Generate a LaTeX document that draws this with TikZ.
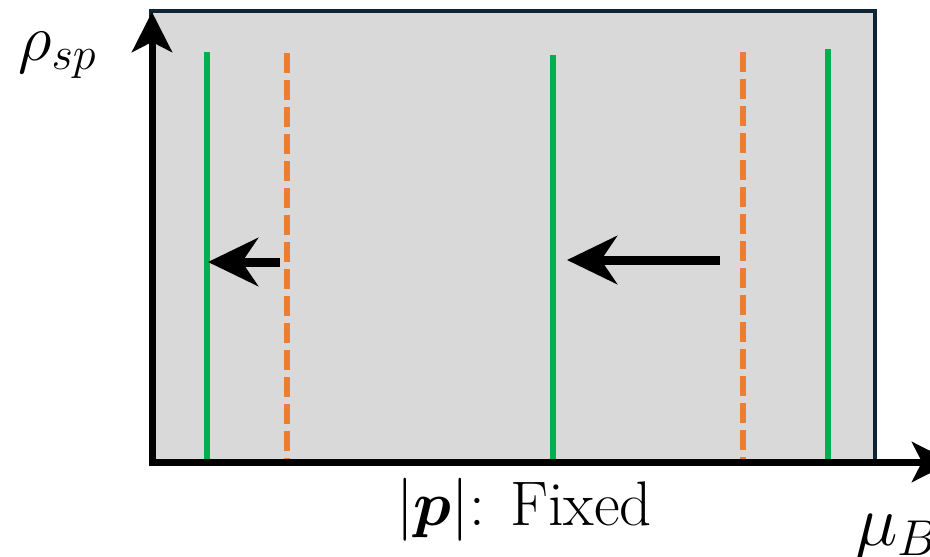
\RequirePackage{fix-cm}
\documentclass[tikz,border=0pt]{standalone}
\usepackage{fontspec}
\usepackage{bm}
\usetikzlibrary{arrows.meta}
\definecolor{panel}{HTML}{D9D9D9}
\definecolor{frame}{HTML}{0F2535}
\definecolor{lgreen}{HTML}{00B050}
\definecolor{lorange}{HTML}{ED7D31}
\tikzset{
  axis/.style={black,line width=7pt,-{Stealth[length=40pt,width=40pt,inset=10pt]}},
  greenline/.style={lgreen,line width=6pt},
  orangeline/.style={lorange,line width=6pt,dash pattern=on 20pt off 7pt},
  shift arrow/.style={black,line width=9pt,-{Stealth[length=50pt,width=48pt,inset=16pt]}},
  lbl/.style={inner sep=0pt,anchor=base west}
}
\begin{document}
\begin{tikzpicture}[x=1pt,y=-1pt]
\useasboundingbox (0,0) rectangle (930,557);
\fill[white] (0,0) rectangle (930,557);
% panel
\draw[fill=panel,draw=frame,line width=4pt] (151,10.5) rectangle (875,462) coordinate (pne);
\coordinate (O) at (152,462);
% vertical lines
\coordinate (g1t) at (207,52);   \coordinate (g1b) at (207,462);
\coordinate (o1t) at (287,53);   \coordinate (o1b) at (287,463);
\coordinate (g2t) at (553,55);   \coordinate (g2b) at (553,462);
\coordinate (o2t) at (743,52);   \coordinate (o2b) at (743,463);
\coordinate (g3t) at (828,49);   \coordinate (g3b) at (828,462);
\draw[greenline] (g1t) -- (g1b);
\draw[greenline] (g2t) -- (g2b);
\draw[greenline] (g3t) -- (g3b);
\draw[orangeline] (o1t) -- (o1b);
\draw[orangeline] (o2t) -- (o2b);
% axes
\coordinate (ytop) at (152,12);
\coordinate (xend) at (952,462);
\draw[axis] (152,465) -- (ytop);
\draw[axis] (149,462) -- (xend);
% shift arrows
\coordinate (a1s) at (280,262); \coordinate (a1e) at (208,262);
\coordinate (a2s) at (720,260); \coordinate (a2e) at (567,260);
\draw[shift arrow] (a1s) -- (a1e);
\draw[shift arrow] (a2s) -- (a2e);
% labels
\node[lbl] (rho) at (18,60) {\fontsize{66}{66}\selectfont $\rho_{sp}$};
\node[lbl] (pfix) at (396,525) {\fontsize{63}{63}\selectfont $|\bm{p}|$: Fixed};
\node[lbl] (mu) at (855,545) {\fontsize{72}{72}\selectfont $\mu_B$};
\end{tikzpicture}
\end{document}
